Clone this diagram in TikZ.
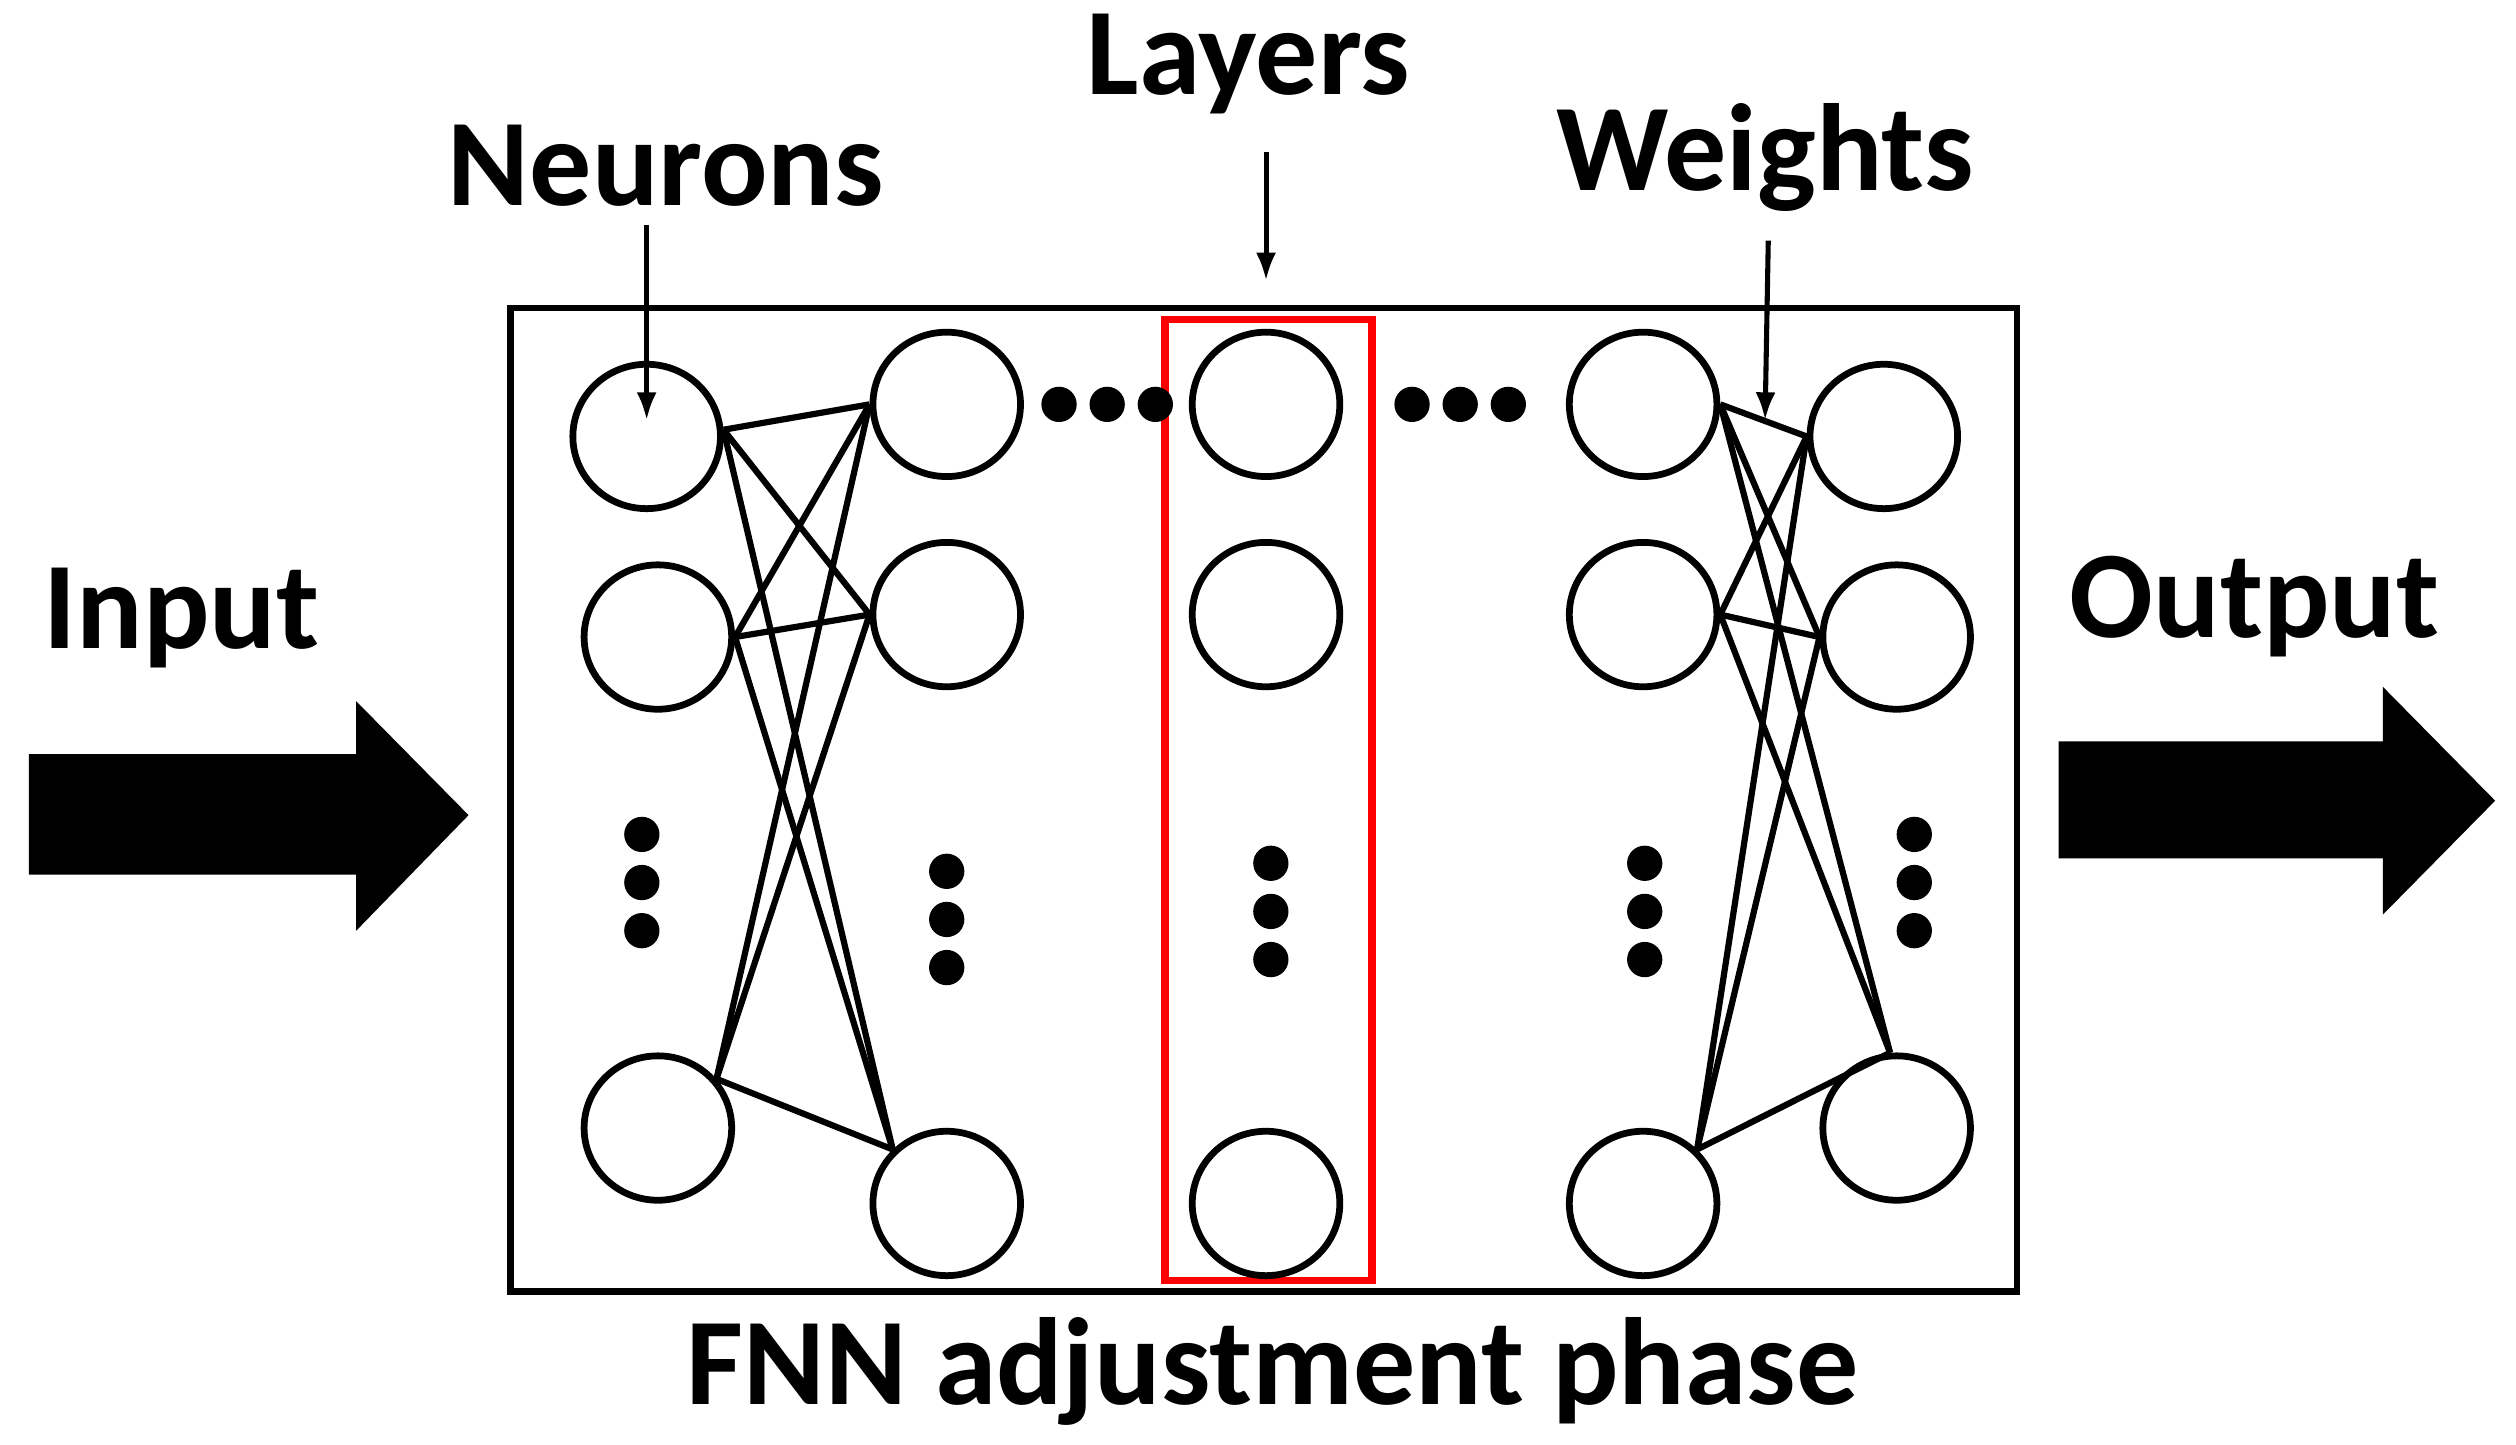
\documentclass[tikz,border=0pt]{standalone}
\usepackage{fontspec}
\setmainfont{Carlito}
\begin{document}
\begin{tikzpicture}[x=0.02cm,y=-0.02cm,
  neu/.style={draw,line width=2.4pt,ellipse,minimum width=1.84cm,minimum height=1.8cm,inner sep=0},
  dot/.style={fill,circle,minimum size=0.44cm,inner sep=0},
  lab/.style={font=\bfseries\fontsize{44}{48}\selectfont},
  ed/.style={line width=2.2pt},
  ar/.style={line width=1.8pt,-{Latex[length=0.35cm,width=0.25cm]}}]
\usetikzlibrary{shapes.geometric,arrows.meta}
\useasboundingbox (0,0) rectangle (1568,900);
\draw[line width=2.4pt] (318,192) rectangle (1257,805);
\draw[red,line width=2.6pt] (726,199) rectangle (855,798);
\foreach \n/\x/\y in {a1/403/272,a2/410/397,a3/410/703,
  b1/590/252,b2/590/383,b3/590/750,
  c1/789/252,c2/789/383,c3/789/750,
  d1/1024/252,d2/1024/383,d3/1024/750,
  e1/1174/272,e2/1182/397,e3/1182/703}
  \node[neu] (\n) at (\x,\y) {};
\foreach \i/\ai in {1/5,2/0,3/40} \foreach \j/\aj in {1/180,2/180,3/135} {
  \draw[ed] (a\i.\ai) -- (b\j.\aj);}
\foreach \i/\ai in {1/0,2/0,3/45} \foreach \j/\aj in {1/180,2/180,3/95} {
  \draw[ed] (d\i.\ai) -- (e\j.\aj);}
\foreach \n/\x/\y in {h1/660/252,h2/690/252,h3/720/252,h4/880/252,h5/910/252,h6/940/252,
  v1/400/520,v2/400/550,v3/400/580,v4/590/543,v5/590/573,v6/590/603,
  v7/792/538,v8/792/568,v9/792/598,v10/1025/538,v11/1025/568,v12/1025/598,
  v13/1193/520,v14/1193/550,v15/1193/580}
  \node[dot] (\n) at (\x,\y) {};
\node[lab] (neur) at (415,103) {Neurons};
\node[lab] (lay) at (778,40) {Layers};
\node[lab] (wei) at (1100,98) {Weights};
\node[lab] (inp) at (113,385) {Input};
\node[lab] (out) at (1405,378) {Output};
\node[lab] (fnn) at (793,855) {FNN adjustment phase};
\coordinate (n0) at (403,140); \coordinate (n1) at (403,262);
\coordinate (l0) at (789,95); \coordinate (l1) at (789,175);
\coordinate (w0) at (1102,150); \coordinate (w1) at (1100,262);
\draw[ar] (n0) -- (n1);
\draw[ar] (l0) -- (l1);
\draw[ar] (w0) -- (w1);
\fill (18,470) -- (222,470) -- (222,437) -- (292,508) -- (222,580) -- (222,545) -- (18,545) -- cycle;
\fill (1283,462) -- (1485,462) -- (1485,428) -- (1555,499) -- (1485,570) -- (1485,535) -- (1283,535) -- cycle;
\end{tikzpicture}
\end{document}
